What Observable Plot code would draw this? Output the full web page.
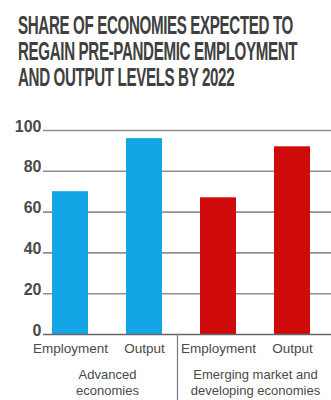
<!DOCTYPE html>
<html>
<head>
<meta charset="utf-8">
<script src="https://cdn.jsdelivr.net/npm/d3@7"></script>
<script src="https://cdn.jsdelivr.net/npm/@observablehq/plot@0.6"></script>
<style>
  body { margin: 0; background: #fff; width: 331px; overflow: hidden; }
  #title {
    font-family: "Liberation Sans", Arial, sans-serif;
    font-weight: bold;
    color: #404040;
    font-size: 25px;
    line-height: 26px;
    letter-spacing: -0.6px;
    padding: 12px 0 0 18px;
    height: 101px;
    box-sizing: border-box;
    white-space: nowrap;
  }
  #title div { display: block; width: max-content; transform-origin: left; }
</style>
</head>
<body>
<div id="title">
  <div>SHARE OF ECONOMIES EXPECTED TO</div>
  <div>REGAIN PRE-PANDEMIC EMPLOYMENT</div>
  <div>AND OUTPUT LEVELS BY 2022</div>
</div>
<div id="chart"></div>
<script>
const groups = ["Advanced\neconomies", "Emerging market and\ndeveloping economies"];
const measures = ["Employment", "Output"];
const advancedValues = [70, 96];
const emergingValues = [67, 92];
const yTicks = [0, 20, 40, 60, 80, 100];
const groupColors = ["#14a5e6", "#cf0a0a"];

// condense title: line 1 spans ~275px in the reference
const titleLines = document.querySelectorAll("#title div");
const s = 275 / titleLines[0].getBoundingClientRect().width;
titleLines.forEach(el => el.style.transform = `scaleX(${s})`);

const rows = [];
[advancedValues, emergingValues].forEach((vals, gi) => {
  vals.forEach((v, mi) => {
    rows.push({key: gi + "|" + measures[mi], group: groups[gi], measure: measures[mi], value: v, color: groupColors[gi]});
  });
});
const keys = rows.map(d => d.key);

const chart = Plot.plot({
  width: 331,
  height: 299,
  marginTop: 29,
  marginBottom: 66,
  marginLeft: 43,
  marginRight: 0,
  style: {fontFamily: "Liberation Sans, Arial, sans-serif", background: "#fff", overflow: "visible"},
  x: {domain: keys, range: [33, 329], paddingInner: 0.51, paddingOuter: 0.255, axis: null},
  y: {domain: [0, 100], ticks: yTicks, axis: null},
  marks: [
    Plot.ruleY(yTicks.filter(t => t > 0), {stroke: "#8f8f8f", strokeWidth: 1.6}),
    Plot.barY(rows, {x: "key", y: "value", fill: "color"}),
    Plot.ruleY([0], {stroke: "#666", strokeWidth: 1.6}),
    Plot.axisY(yTicks, {
      anchor: "left", label: null, tickSize: 0, tickPadding: 2, lineAnchor: "bottom", dy: 1,
      fontSize: 16, fontWeight: "bold", fill: "#4a4a4a", letterSpacing: -0.9
    }),
    Plot.axisX(keys, {
      anchor: "bottom", label: null, tickSize: 0, tickPadding: 9, tickFormat: k => k.split("|")[1],
      fontSize: 13.5, fill: "#4a4a4a", letterSpacing: -0.7
    }),
    Plot.text(rows.filter(d => d.measure === "Employment"), {
      x: "key", y: 0, text: "group", dx: 37, dy: 32, lineAnchor: "top", lineHeight: 1.3,
      fontSize: 13, fill: "#4a4a4a", letterSpacing: -0.9
    }),
    Plot.ruleX(rows.filter(d => d.group === groups[0] && d.measure === "Output"), {
      x: "key", dx: 33, insetTop: 204, insetBottom: -66, stroke: "#777", strokeWidth: 1.2
    })
  ]
});
document.getElementById("chart").appendChild(chart);
</script>
</body>
</html>
